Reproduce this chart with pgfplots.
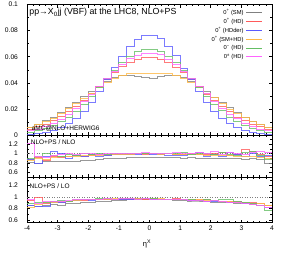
\documentclass[border=0pt]{standalone}
\usepackage{pgfplots}
\pgfplotsset{compat=1.18}
\usepackage{pgfplotstable}
\usepackage{fontspec}
\setmainfont{Liberation Sans}
\setsansfont{Liberation Sans}

\definecolor{cgrey}{RGB}{128,128,128}
\definecolor{cred}{RGB}{255,90,90}
\definecolor{cblue}{RGB}{90,90,255}
\definecolor{corange}{RGB}{255,185,70}
\definecolor{cgreen}{RGB}{100,190,100}
\definecolor{cmag}{RGB}{255,100,255}

\pgfplotstableread{
x grey red blue orange green magenta
-4.00 0.0060 0.0045 0.00065 0.0058 0.0022 0.0032
-3.75 0.0082 0.0062 0.00119 0.0078 0.0034 0.0046
-3.50 0.0108 0.0083 0.00207 0.0102 0.0050 0.0065
-3.25 0.0138 0.0109 0.00346 0.0130 0.0072 0.0090
-3.00 0.0172 0.0140 0.00558 0.0163 0.0101 0.0122
-2.75 0.0210 0.0177 0.00863 0.0200 0.0138 0.0160
-2.50 0.0250 0.0218 0.01283 0.0240 0.0184 0.0205
-2.25 0.0292 0.0264 0.01834 0.0282 0.0237 0.0257
-2.00 0.0332 0.0315 0.0252 0.0322 0.0297 0.0313
-1.75 0.0372 0.0370 0.0333 0.0362 0.0363 0.0373
-1.50 0.0410 0.0425 0.0422 0.0402 0.0430 0.0433
-1.25 0.0440 0.0478 0.0515 0.0435 0.0495 0.0490
-1.00 0.0458 0.0522 0.0604 0.0458 0.0555 0.0541
-0.75 0.0458 0.0557 0.0680 0.0468 0.0604 0.0583
-0.50 0.0448 0.0581 0.0736 0.0472 0.0639 0.0613
-0.25 0.0438 0.0594 0.0766 0.0474 0.0658 0.0628
0.00 0.0437 0.0593 0.0765 0.0473 0.0656 0.0627
0.25 0.0446 0.0580 0.0738 0.0471 0.0641 0.0614
0.50 0.0459 0.0558 0.0679 0.0469 0.0602 0.0581
0.75 0.0457 0.0520 0.0606 0.0459 0.0556 0.0543
1.00 0.0441 0.0480 0.0513 0.0433 0.0493 0.0488
1.25 0.0408 0.0423 0.0424 0.0404 0.0432 0.0435
1.50 0.0370 0.0372 0.0331 0.0364 0.0361 0.0371
1.75 0.0334 0.0313 0.0253 0.0320 0.0299 0.0315
2.00 0.0290 0.0266 0.0182 0.0284 0.0236 0.0255
2.25 0.0251 0.0216 0.0129 0.0241 0.0185 0.0206
2.50 0.0208 0.0179 0.0085 0.0198 0.0137 0.0159
2.75 0.0173 0.0138 0.0057 0.0165 0.0102 0.0123
3.00 0.0136 0.0110 0.0034 0.0131 0.0071 0.0089
3.25 0.0107 0.0082 0.0021 0.0101 0.0051 0.0066
3.50 0.0083 0.0063 0.0012 0.0079 0.0033 0.0045
3.75 0.0058 0.0046 0.0007 0.0059 0.0023 0.0033
4.00 0.0058 0.0046 0.0007 0.0059 0.0023 0.0033
}\maintab

\pgfplotstableread{
x grey red blue orange green magenta
-4.00 0.82 0.87 0.88 0.85 0.90 1.22
-3.75 0.80 0.92 0.79 0.90 0.93 0.95
-3.50 0.83 0.86 0.95 0.88 1.00 0.92
-3.25 0.84 0.95 1.05 0.92 0.96 0.97
-3.00 0.83 0.92 1.00 0.94 0.95 0.99
-2.75 0.84 0.94 0.90 0.93 0.98 1.00
-2.50 0.84 0.97 0.96 0.95 0.97 0.98
-2.25 0.85 0.95 0.93 0.96 1.00 1.00
-2.00 0.86 0.96 0.98 0.97 0.99 1.01
-1.75 0.87 0.98 0.95 0.97 1.01 0.99
-1.50 0.89 0.97 0.97 0.98 0.99 1.00
-1.25 0.89 0.99 0.98 0.99 1.00 1.01
-1.00 0.90 0.99 0.99 0.99 1.01 1.00
-0.75 0.91 0.98 0.98 0.99 1.00 1.01
-0.50 0.91 1.00 0.99 1.00 1.00 1.00
-0.25 0.92 0.99 1.00 1.00 1.01 1.02
0.00 0.92 1.00 0.99 1.00 1.00 1.01
0.25 0.91 0.99 0.98 0.99 1.00 1.00
0.50 0.92 1.01 0.97 1.00 1.01 1.01
0.75 0.91 0.99 0.97 0.99 1.00 1.02
1.00 0.90 0.98 0.96 0.99 1.02 1.01
1.25 0.91 1.00 0.98 0.98 0.99 1.00
1.50 0.90 0.99 1.02 0.98 1.01 1.02
1.75 0.90 0.98 0.94 0.97 1.00 1.01
2.00 0.89 1.00 0.98 0.96 0.98 1.04
2.25 0.90 1.02 0.95 0.97 1.02 0.99
2.50 0.89 0.97 1.03 0.96 0.99 1.02
2.75 0.89 0.99 0.98 0.95 0.97 1.00
3.00 0.88 1.08 0.95 0.94 1.03 0.99
3.25 0.89 1.04 1.00 0.93 1.05 1.03
3.50 0.87 0.99 0.93 0.92 0.96 1.05
3.75 0.78 0.95 0.96 0.90 0.88 1.02
4.00 0.78 0.95 0.96 0.90 0.88 1.02
}\ratnlo

\pgfplotstableread{
x grey red blue orange green magenta
-4.00 0.85 0.94 0.86 0.82 0.88 0.95
-3.75 0.84 1.00 0.84 0.87 0.90 0.88
-3.50 0.86 0.88 0.84 0.90 0.91 0.92
-3.25 0.87 0.92 0.90 0.91 0.93 0.93
-3.00 0.86 0.91 0.91 0.92 0.94 0.92
-2.75 0.88 0.93 0.92 0.93 0.93 0.94
-2.50 0.89 0.94 0.94 0.94 0.95 0.95
-2.25 0.90 0.94 0.95 0.95 0.96 0.95
-2.00 0.90 0.95 0.94 0.96 0.96 0.96
-1.75 0.92 0.95 0.96 0.96 0.97 0.96
-1.50 0.93 0.96 0.96 0.96 0.97 0.97
-1.25 0.94 0.96 0.96 0.97 0.96 0.96
-1.00 0.94 0.96 0.95 0.97 0.97 0.97
-0.75 0.95 0.96 0.96 0.97 0.97 0.97
-0.50 0.95 0.97 0.97 0.97 0.96 0.96
-0.25 0.96 0.96 0.97 0.97 0.97 0.97
0.00 0.96 0.97 0.96 0.97 0.97 0.96
0.25 0.95 0.96 0.96 0.97 0.96 0.96
0.50 0.95 0.96 0.95 0.96 0.96 0.96
0.75 0.94 0.97 0.95 0.96 0.95 0.95
1.00 0.94 0.96 0.95 0.96 0.96 0.96
1.25 0.93 0.96 0.94 0.95 0.95 0.94
1.50 0.93 0.95 0.94 0.95 0.94 0.94
1.75 0.92 0.95 0.93 0.94 0.95 0.93
2.00 0.91 0.94 0.92 0.94 0.94 0.94
2.25 0.90 0.93 0.92 0.93 0.96 0.92
2.50 0.90 0.93 0.90 0.92 0.95 0.91
2.75 0.89 0.92 0.90 0.91 0.93 0.90
3.00 0.88 0.91 0.89 0.90 0.90 0.89
3.25 0.87 0.90 0.88 0.89 0.88 0.87
3.50 0.86 0.88 0.86 0.88 0.86 0.85
3.75 0.85 0.85 0.82 0.86 0.76 0.82
4.00 0.85 0.85 0.82 0.86 0.76 0.82
}\ratlo

\pgfplotsset{
  myax/.style={
    scale only axis, width=245pt, xmin=-4, xmax=4,
    axis line style={line width=0.6pt},
    tick align=inside, major tick length=3pt, minor tick length=1.6pt,
    tick style={black, line width=0.5pt},
    xtick={-4,-3,-2,-1,0,1,2,3,4},
    minor x tick num=4,
    /pgf/number format/assume math mode=true,
    tick label style={font=\fontsize{6.7}{7}\selectfont},
    yticklabel style={xshift=-5.5pt},
  },
  hist/.style={const plot, line width=0.9pt, no marks, opacity=0.8},
  ratax/.style={
    myax, ytick={0.6,0.8,1,1.2}, yticklabels={0.6,0.8,1,1.2},
    minor ytick={0.5,0.7,0.9,1.1,1.3},
  },
}

\begin{document}
\begin{tikzpicture}
\begin{axis}[myax, at={(27pt,123pt)}, anchor=south west, height=130.5pt,
  ymin=0, ymax=0.1,
  ytick={0,0.02,0.04,0.06,0.08,0.1}, yticklabels={0,0.02,0.04,0.06,0.08,0.1},
  minor ytick={0.01,0.03,0.05,0.07,0.09},
  xticklabels={},
  legend plot pos=right,
  legend style={draw=none, fill=none, at={(0.962,0.978)}, anchor=north east,
    font=\fontsize{5.8}{6}\selectfont, cells={anchor=east}, row sep=-1.4pt,
    inner sep=0pt},
  legend image code/.code={\draw[#1, opacity=1] (0pt,0pt) -- (16pt,0pt);},
]
\addplot[hist, cgrey] table[x=x, y=grey] {\maintab};
\addlegendentry{0\textsuperscript{+} (SM)}
\addplot[hist, cred] table[x=x, y=red] {\maintab};
\addlegendentry{0\textsuperscript{+} (HD)}
\addplot[hist, cblue] table[x=x, y=blue] {\maintab};
\addlegendentry{0\textsuperscript{+} (HDder)}
\addplot[hist, corange] table[x=x, y=orange] {\maintab};
\addlegendentry{0\textsuperscript{+} (SM+HD)}
\addplot[hist, cgreen] table[x=x, y=green] {\maintab};
\addlegendentry{0\textsuperscript{−} (HD)}
\addplot[hist, cmag] table[x=x, y=magenta] {\maintab};
\addlegendentry{0\textsuperscript{±} (HD)}
\node[anchor=west, inner sep=0pt, font=\fontsize{8.8}{10}\selectfont] at (rel axis cs:0.009,0.937) {pp→X\textsubscript{0}jj (VBF) at the LHC8, NLO+PS};
\node[anchor=west, inner sep=0pt, font=\fontsize{6.5}{7}\selectfont] at (rel axis cs:0.019,0.051) {aMC@NLO+HERWIG6};
\end{axis}

\begin{axis}[ratax, at={(27pt,81pt)}, anchor=south west, height=42pt,
  ymin=0.5, ymax=1.4, xticklabels={}]
\addplot[gray, dotted, line width=0.5pt, sharp plot] coordinates {(-4,1) (4,1)};
\addplot[hist, cgrey] table[x=x, y=grey] {\ratnlo};
\addplot[hist, cred] table[x=x, y=red] {\ratnlo};
\addplot[hist, cblue] table[x=x, y=blue] {\ratnlo};
\addplot[hist, corange] table[x=x, y=orange] {\ratnlo};
\addplot[hist, cgreen] table[x=x, y=green] {\ratnlo};
\addplot[hist, cmag] table[x=x, y=magenta] {\ratnlo};
\node[anchor=west, inner sep=0pt, font=\fontsize{6.5}{7}\selectfont] at (rel axis cs:0.015,0.84) {NLO+PS / NLO};
\end{axis}

\begin{axis}[ratax, at={(27pt,35.3pt)}, anchor=south west, height=45.7pt,
  ymin=0.55, ymax=1.35,
  xticklabels={-4,-3,-2,-1,0,1,2,3,4},
  xlabel={η\textsuperscript{X}},
  xlabel style={font=\fontsize{7.5}{8}\selectfont, at={(rel axis cs:0.49,0)}, anchor=center, yshift=-21pt},
]
\addplot[gray, dotted, line width=0.5pt, sharp plot] coordinates {(-4,1) (4,1)};
\addplot[hist, cgrey] table[x=x, y=grey] {\ratlo};
\addplot[hist, cred] table[x=x, y=red] {\ratlo};
\addplot[hist, cblue] table[x=x, y=blue] {\ratlo};
\addplot[hist, corange] table[x=x, y=orange] {\ratlo};
\addplot[hist, cgreen] table[x=x, y=green] {\ratlo};
\addplot[hist, cmag] table[x=x, y=magenta] {\ratlo};
\node[anchor=west, inner sep=0pt, font=\fontsize{6.5}{7}\selectfont] at (rel axis cs:0.01,0.80) {NLO+PS / LO};
\end{axis}
\pgfresetboundingbox
\path[use as bounding box] (0pt,0pt) rectangle (287pt,258pt);
\end{tikzpicture}
\end{document}
